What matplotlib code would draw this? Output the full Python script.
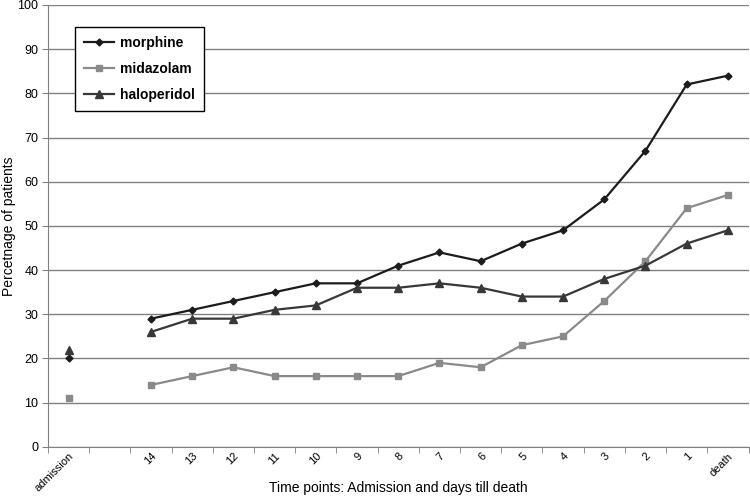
import numpy as np
import matplotlib.pyplot as plt

plt.rcParams['font.family'] = ['Liberation Sans', 'DejaVu Sans']

# categories: admission, blank gap, days 14..1, death
labels = ["admission", "", "14", "13", "12", "11", "10", "9", "8", "7", "6",
          "5", "4", "3", "2", "1", "death"]
nan = np.nan
morphine = [20, nan, 29, 31, 33, 35, 37, 37, 41, 44, 42, 46, 49, 56, 67, 82, 84]
midazolam = [11, nan, 14, 16, 18, 16, 16, 16, 16, 19, 18, 23, 25, 33, 42, 54, 57]
haloperidol = [22, nan, 26, 29, 29, 31, 32, 36, 36, 37, 36, 34, 34, 38, 41, 46, 49]

x = np.arange(len(labels))

fig = plt.figure(figsize=(7.5, 4.97), dpi=100)
ax = fig.add_axes([0.064, 0.101, 0.934, 0.889])

ax.plot(x, morphine, color="#1c1c1c", lw=1.6, marker="D", ms=3.5, label="morphine")
ax.plot(x, midazolam, color="#8a8a8a", lw=1.6, marker="s", ms=4.5, label="midazolam")
ax.plot(x, haloperidol, color="#383838", lw=1.6, marker="^", ms=5.5, label="haloperidol")

ax.set_xlim(-0.5, len(labels) - 0.5)
ax.set_ylim(0, 100)
ax.set_yticks(range(0, 101, 10))
ax.yaxis.grid(True, color="#808080", lw=1)
ax.set_axisbelow(True)

ax.set_xticks(x)
ax.set_xticklabels(labels, rotation=45, ha="right", rotation_mode="anchor",
                   fontsize=8)
ax.set_xticks(np.arange(-0.5, len(labels)), minor=True)
ax.tick_params(axis="x", which="major", length=0, pad=3)
ax.tick_params(axis="x", which="minor", length=4, color="#808080")
ax.tick_params(axis="y", labelsize=9, length=4, color="#808080", pad=3)

for s in ["top", "right"]:
    ax.spines[s].set_visible(False)
for s in ["left", "bottom"]:
    ax.spines[s].set_color("#808080")

ax.set_xlabel("Time points: Admission and days till death", fontsize=10)
ax.xaxis.set_label_coords(0.5, -0.077)
ax.set_ylabel("Percetnage of patients", fontsize=10)
ax.yaxis.set_label_coords(-0.045, 0.5)

leg = ax.legend(loc="upper left", bbox_to_anchor=(0.038, 0.95), fontsize=10,
                fancybox=False, edgecolor="black", framealpha=1,
                handlelength=2.2, borderpad=0.65, labelspacing=0.85,
                handletextpad=0.4, borderaxespad=0)
leg.get_frame().set_linewidth(1)
for t in leg.get_texts():
    t.set_fontweight("bold")

fig.savefig("out.png", dpi=100)
